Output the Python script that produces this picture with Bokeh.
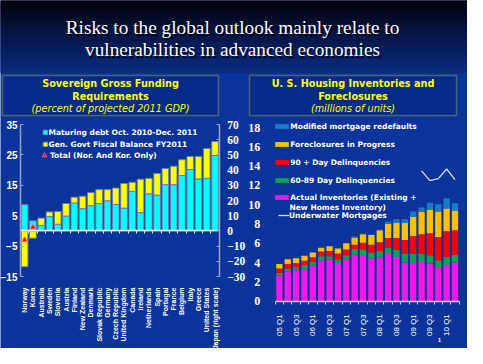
import math
from bokeh.plotting import figure
from bokeh.models import (Range1d, LinearAxis, FixedTicker, Legend, LegendItem,
                          ColumnDataSource, BoxAnnotation, Label)
from bokeh.core.properties import value
from bokeh.embed import file_html
from bokeh.resources import INLINE

# ---------------- data ----------------
title_lines = ["Risks to the global outlook mainly relate to",
               "vulnerabilities in advanced economies"]
left_title = ["Sovereign Gross Funding", "Requirements", "(percent of projected 2011 GDP)"]
right_title = ["U. S. Housing Inventories and", "Foreclosures", "(millions of units)"]

countries = ["Norway", "Korea", "Australia", "Sweden", "Slovenia", "Austria", "Finland",
             "New Zealand", "Denmark", "Slovak Republic", "Germany", "Czech Republic",
             "United Kingdom", "Canada", "Ireland", "Netherlands", "Spain", "Portugal",
             "France", "Belgium", "Italy", "Greece", "United States", "Japan (right scale)"]
maturing = [8.6, 3.3, 1.8, 4.7, 2.2, 4.9, 9.2, 7.3, 8.3, 9.0, 9.9, 8.7,
            7.5, 13.0, 6.0, 12.2, 11.8, 15.2, 15.2, 18.2, 20.2, 17.1, 17.3, 49.6]
fiscal = [-11.8, -2.4, 2.4, 1.55, 4.2, 4.1, 1.9, 4.1, 4.3, 4.6, 3.7, 5.4,
          8.1, 3.0, 11.0, 5.1, 7.1, 5.3, 6.1, 5.2, 4.3, 7.4, 9.8, 9.2]
total_countries = ["Norway", "Korea"]
total_values = [-3.0, 1.2]
right_scale_country = "Japan (right scale)"
left_ticks = [-15, -5, 5, 15, 25, 35]
right_ticks = [-30, -20, -10, 0, 10, 20, 30, 40, 50, 60, 70]
left_legend = ["Maturing debt Oct. 2010-Dec. 2011", "Gen. Govt Fiscal Balance FY2011",
               "Total (Nor. And Kor. Only)"]

quarters = ["05 Q1", "05 Q2", "05 Q3", "05 Q4", "06 Q1", "06 Q2", "06 Q3", "06 Q4",
            "07 Q1", "07 Q2", "07 Q3", "07 Q4", "08 Q1", "08 Q2", "08 Q3", "08 Q4",
            "09 Q1", "09 Q2", "09 Q3", "09 Q4", "10 Q1", "10 Q2"]
inventories = [2.65, 3.1, 3.25, 3.3, 3.7, 4.25, 4.3, 3.95, 4.3, 4.85, 4.8, 4.45,
               4.55, 4.9, 4.6, 4.0, 3.95, 4.05, 3.9, 3.45, 3.75, 4.0]
dlq_60_89 = [0.3, 0.3, 0.3, 0.45, 0.4, 0.4, 0.35, 0.4, 0.45, 0.55, 0.55, 0.6,
             0.65, 0.65, 0.7, 0.9, 0.95, 0.85, 0.85, 0.8, 0.85, 0.8]
dlq_90 = [0.45, 0.45, 0.4, 0.45, 0.45, 0.5, 0.55, 0.6, 0.6, 0.45, 0.7, 0.8,
          0.9, 1.0, 1.25, 1.45, 1.85, 2.05, 2.3, 2.4, 2.65, 2.55]
foreclosures = [0.45, 0.5, 0.5, 0.5, 0.5, 0.4, 0.5, 0.5, 0.65, 0.75, 0.9, 1.0,
                1.25, 1.45, 1.55, 1.75, 2.0, 2.3, 2.4, 2.65, 2.35, 2.05]
redefaults = [0, 0, 0, 0, 0, 0, 0, 0, 0, 0.1, 0.05, 0.05,
              0.05, 0.25, 0.4, 0.4, 0.55, 0.45, 0.75, 0.75, 1.05, 0.75]
underwater_quarters = ["09 Q2", "09 Q3", "09 Q4", "10 Q1", "10 Q2"]
underwater = [13.5, 12.5, 12.7, 13.7, 12.6]
housing_ticks = [0, 2, 4, 6, 8, 10, 12, 14, 16, 18]
quarter_labels = ["05 Q1", "05 Q3", "06 Q1", "06 Q3", "07 Q1", "07 Q3",
                  "08 Q1", "08 Q3", "09 Q1", "09 Q3", "10 Q1"]
right_legend = ["Modified mortgage redefaults", "Foreclosures in Progress",
                "90 + Day Delinquencies", "60-89 Day Delinquencies",
                "Actual Inventories (Existing +", "New Homes Inventory)",
                "Underwater Mortgages"]

# ---------------- styles / layout ----------------
BG = "#0a339c"
BOX = "#072b8a"
YEL = "#ffff00"
CYAN = "#00ffff"
LEG_FONT = "DejaVu Sans"
W, H = 467, 348
X0, X1, Y0, Y1 = 8, 8 + W, 8, 8 + H   # slide pixel window covered by the canvas


def lin(v1, p1, v2, p2, lo, hi):
    s = (v2 - v1) / (p2 - p1)
    return Range1d(v1 + (lo - p1) * s, v1 + (hi - p1) * s)


p = figure(width=W, height=H, x_range=Range1d(X0, X1), y_range=Range1d(Y1, Y0),
           min_border=0, toolbar_location=None, output_backend="svg",
           x_axis_type=None, y_axis_type=None, background_fill_color=BG,
           border_fill_color=BG, outline_line_color=None)
p.grid.visible = False

p.extra_x_ranges = {
    "lx": lin(0.5, 28, 24.5, 226.7, X0, X1),
    "rx": lin(0.5, 282.7, 22.5, 466.7, X0, X1),
}
p.extra_y_ranges = {
    "ly": lin(-15, 284, 35, 132, Y1, Y0),
    "ly2": lin(-30, 284, 70, 132, Y1, Y0),
    "ry": lin(0, 308.7, 18, 135, Y1, Y0),
}

# ---------- header gradient ----------
n_bands = 12
c_top, c_bot = (1, 3, 16), (11, 42, 124)
band_h = (80 - Y0) / n_bands
tops, bots, cols = [], [], []
for k in range(n_bands):
    t = k / (n_bands - 1)
    c = tuple(int(round(a + (b - a) * t)) for a, b in zip(c_top, c_bot))
    tops.append(Y0 + k * band_h)
    bots.append(Y0 + (k + 1) * band_h)
    cols.append("#%02x%02x%02x" % c)
p.quad(left=X0, right=X1, top=tops, bottom=bots, fill_color=cols, line_color=cols)

title_font = value("Liberation Serif")
for dy, txt in zip([35, 57], title_lines):
    p.text(x=[240], y=[dy], text=[txt], text_align="center", text_baseline="middle",
           text_font=title_font, text_font_size="19.3px", text_color="#000018",
           x_offset=1.5, y_offset=1.5)
    p.text(x=[240], y=[dy], text=[txt], text_align="center", text_baseline="middle",
           text_font=title_font, text_font_size="19.3px", text_color="white")

# ---------- title boxes ----------
for (l, r, cx, lines) in [(10, 226, 118, left_title), (257, 464, 360.5, right_title)]:
    p.add_layout(BoxAnnotation(left=l, right=r, top=83, bottom=123, fill_color=BOX,
                               fill_alpha=1, line_color="#e0e000", line_width=1.5,
                               level="underlay"))
    for yy, txt, st in zip([91, 104, 116], lines, ["bold", "bold", "italic"]):
        p.text(x=[cx], y=[yy], text=[txt], text_align="center", text_baseline="middle",
               text_font=value(LEG_FONT), text_font_style=st,
               text_font_size="9.7px", text_color=YEL)

# ---------- left chart: sovereign funding ----------
xi = list(range(1, len(countries) + 1))
cyan_b, cyan_t, yel_b, yel_t = [], [], [], []
for m, f in zip(maturing, fiscal):
    cyan_b.append(0)
    cyan_t.append(m)
    if f >= 0:
        yel_b.append(m)
        yel_t.append(m + f)
    else:
        yel_b.append(f)
        yel_t.append(0)
ir = countries.index(right_scale_country)
left_idx = [k for k in range(len(countries)) if k != ir]


def src(idx):
    return ColumnDataSource(dict(x=[xi[k] for k in idx], cb=[cyan_b[k] for k in idx],
                                 ct=[cyan_t[k] for k in idx], yb=[yel_b[k] for k in idx],
                                 yt=[yel_t[k] for k in idx]))


s_left, s_right = src(left_idx), src([ir])
bar_kw = dict(width=0.8, line_color="#6c7ca8", line_width=1, x_range_name="lx")
r_cyan = p.vbar(x="x", bottom="cb", top="ct", fill_color=CYAN, source=s_left,
                y_range_name="ly", **bar_kw)
r_yel = p.vbar(x="x", bottom="yb", top="yt", fill_color=YEL, source=s_left,
               y_range_name="ly", **bar_kw)
p.vbar(x="x", bottom="cb", top="ct", fill_color=CYAN, source=s_right,
       y_range_name="ly2", **bar_kw)
p.vbar(x="x", bottom="yb", top="yt", fill_color=YEL, source=s_right,
       y_range_name="ly2", **bar_kw)
r_tri = p.scatter(x=[xi[countries.index(c)] for c in total_countries], y=total_values,
                  marker="triangle", size=6, fill_color="#ff1010", line_color="#ff9090",
                  line_width=0.6, x_range_name="lx", y_range_name="ly")

AX = "#9aa2c8"
ax_l = LinearAxis(y_range_name="ly", fixed_location=28, bounds=(-15, 35),
                  ticker=FixedTicker(ticks=left_ticks))
ax_r = LinearAxis(y_range_name="ly2", fixed_location=226.7, bounds=(-30, 70),
                  ticker=FixedTicker(ticks=right_ticks))
for ax, fnt, size, so in [(ax_l, "Liberation Sans", "10px", 3),
                          (ax_r, "Liberation Serif", "11.5px", 8)]:
    ax.axis_line_color = AX
    ax.axis_line_width = 1.5
    ax.major_tick_in = 3
    ax.major_tick_out = 0
    ax.major_tick_line_color = AX
    ax.minor_tick_line_color = None
    ax.major_label_text_color = "white"
    ax.major_label_text_font = fnt
    ax.major_label_text_font_style = "bold"
    ax.major_label_text_font_size = size
    ax.major_label_standoff = so
p.add_layout(ax_l, "left")
p.add_layout(ax_r, "right")

ax_zero = LinearAxis(x_range_name="lx", y_range_name="ly", fixed_location=0,
                     bounds=(0.5, 24.5),
                     ticker=FixedTicker(ticks=[k + 0.5 for k in xi[:-1]]))
ax_zero.axis_line_color = "white"
ax_zero.axis_line_width = 1.5
ax_zero.major_tick_line_color = "#e0e4f4"
ax_zero.major_tick_in = 0
ax_zero.major_tick_out = 3
ax_zero.minor_tick_line_color = None
ax_zero.major_label_text_color = None
p.add_layout(ax_zero, "below")

ax_c = LinearAxis(x_range_name="lx", y_range_name="ly", fixed_location=-15,
                  ticker=FixedTicker(ticks=xi),
                  major_label_overrides={k: c for k, c in zip(xi, countries)})
ax_c.axis_line_color = None
ax_c.major_tick_line_color = None
ax_c.minor_tick_line_color = None
ax_c.major_label_orientation = math.pi / 2
ax_c.major_label_text_color = "white"
ax_c.major_label_text_font = "Liberation Sans"
ax_c.major_label_text_font_style = "bold"
ax_c.major_label_text_font_size = "7px"
ax_c.major_label_standoff = 5
p.add_layout(ax_c, "below")

# ---------- right chart: housing ----------
qi = list(range(1, len(quarters) + 1))
hs = ColumnDataSource(dict(x=qi, inv=inventories, d60=dlq_60_89, d90=dlq_90,
                           fc=foreclosures, rd=redefaults))
stack_cols = ["#f018e8", "#10a050", "#ff0000", "#ffc000", "#1a7cc8"]
r_stack = p.vbar_stack(["inv", "d60", "d90", "fc", "rd"], x="x", width=0.75,
                       color=stack_cols, line_color=None, source=hs,
                       x_range_name="rx", y_range_name="ry")
r_uw = p.line(x=[qi[quarters.index(q)] for q in underwater_quarters], y=underwater,
              line_color="#d8def8", line_width=1.3, x_range_name="rx", y_range_name="ry")

ax_h = LinearAxis(y_range_name="ry", fixed_location=282.7, bounds=(0, 18),
                  ticker=FixedTicker(ticks=housing_ticks))
ax_h.axis_line_color = None
ax_h.major_tick_line_color = None
ax_h.minor_tick_line_color = None
ax_h.major_label_text_color = "white"
ax_h.major_label_text_font = "Liberation Serif"
ax_h.major_label_text_font_style = "bold"
ax_h.major_label_text_font_size = "12px"
ax_h.major_label_standoff = 9
p.add_layout(ax_h, "left")

ax_q0 = LinearAxis(x_range_name="rx", y_range_name="ry", fixed_location=0,
                   bounds=(0.5, 22.5),
                   ticker=FixedTicker(ticks=[k - 0.5 for k in qi] + [qi[-1] + 0.5]))
ax_q0.axis_line_color = "#c8d0ee"
ax_q0.axis_line_width = 1.5
ax_q0.major_tick_line_color = "#c8d0ee"
ax_q0.major_tick_in = 0
ax_q0.major_tick_out = 3
ax_q0.minor_tick_line_color = None
ax_q0.major_label_text_color = None
p.add_layout(ax_q0, "below")

ql_pos = [qi[quarters.index(q)] for q in quarter_labels]
ax_q = LinearAxis(x_range_name="rx", y_range_name="ry", fixed_location=0,
                  ticker=FixedTicker(ticks=ql_pos),
                  major_label_overrides={k: q for k, q in zip(ql_pos, quarter_labels)})
ax_q.axis_line_color = None
ax_q.major_tick_line_color = None
ax_q.minor_tick_line_color = None
ax_q.major_label_orientation = math.pi / 2
ax_q.major_label_text_color = "white"
ax_q.major_label_text_font = "Liberation Sans"
ax_q.major_label_text_font_size = "8px"
ax_q.major_label_standoff = 7
p.add_layout(ax_q, "below")

# ---------- legends ----------
ITEM_H = 10


def add_legend(renderer, label, x_left, y_center, gw, gh, standoff=0):
    leg = Legend(items=[LegendItem(label=label, renderers=[renderer])],
                 location=(x_left - X0, Y1 - (y_center + ITEM_H / 2)),
                 glyph_width=gw, glyph_height=gh, label_standoff=standoff,
                 label_height=ITEM_H, padding=0, margin=0, spacing=0,
                 background_fill_alpha=0, border_line_alpha=0,
                 label_text_color="white", label_text_font=LEG_FONT,
                 label_text_font_style="bold", label_text_font_size="7.5px")
    p.add_layout(leg)


add_legend(r_cyan, left_legend[0], 49.5, 140, 6, 6, 1)
add_legend(r_yel, left_legend[1], 49.5, 152, 6, 6, 1)
add_legend(r_tri, left_legend[2], 46, 164, 12, 12, 0)

rl_renderers = [r_stack[4], r_stack[3], r_stack[2], r_stack[1], r_stack[0]]
for rr, lab, yc in zip(rl_renderers, right_legend[:5], [134, 152, 170, 188, 205]):
    add_legend(rr, lab, 281.3, yc, 17, 6, 0)
p.add_layout(Label(x=297, y=215, text=right_legend[5], text_baseline="middle",
                   text_color="white", text_font=LEG_FONT,
                   text_font_style="bold", text_font_size="7.5px"))
add_legend(r_uw, right_legend[6], 286, 223, 11, 10, 0)

p.add_layout(Label(x=447, y=347, text="1", text_align="center", text_baseline="middle",
                   text_color="white", text_font="Liberation Sans",
                   text_font_style="bold", text_font_size="6px"))

open("out.html", "w").write(file_html(p, INLINE))
